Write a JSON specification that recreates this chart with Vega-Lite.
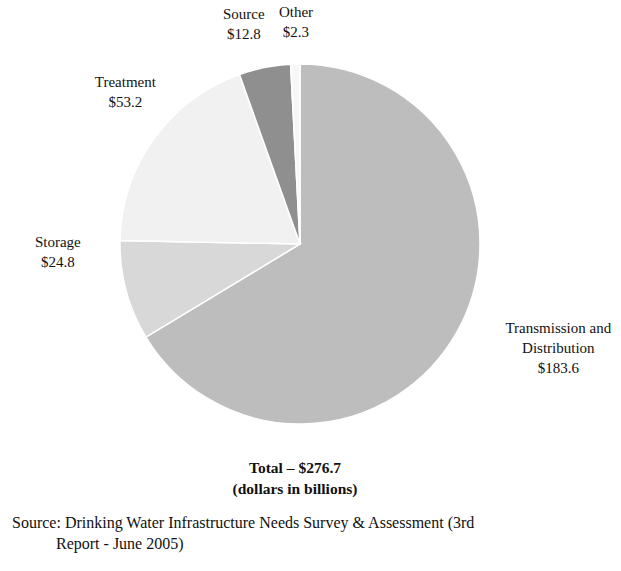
{
  "$schema": "https://vega.github.io/schema/vega-lite/v6.json",
  "padding": 5,
  "background": "white",
  "config": {"view": {"stroke": null}},
  "title": {
    "text": ["Source: Drinking Water Infrastructure Needs Survey & Assessment (3rd", "\u200b\u00a0\u00a0\u00a0\u00a0\u00a0\u00a0\u00a0\u00a0\u00a0\u00a0\u00a0Report - June 2005)"],
    "orient": "bottom",
    "anchor": "start",
    "font": "Liberation Serif",
    "fontSize": 16,
    "fontWeight": "normal",
    "color": "#111111",
    "lineHeight": 21,
    "dx": 7,
    "offset": 17
  },
  "vconcat": [
    {
      "width": 590,
      "height": 474,
      "title": {
        "text": ["Total – $276.7", "(dollars in billions)"],
        "orient": "bottom",
        "anchor": "middle",
        "font": "Liberation Serif",
        "fontSize": 15.5,
        "fontWeight": "bold",
        "color": "#111111",
        "lineHeight": 21,
        "dx": -5,
        "offset": -20
      },
      "data": {
        "values": [
          {"idx": 1, "category": "Transmission and Distribution", "value": 183.6, "label": "Transmission and\nDistribution\n$183.6"},
          {"idx": 2, "category": "Storage", "value": 24.8, "label": "Storage\n$24.8"},
          {"idx": 3, "category": "Treatment", "value": 53.2, "label": "Treatment\n$53.2"},
          {"idx": 4, "category": "Source", "value": 12.8, "label": "Source\n$12.8"},
          {"idx": 5, "category": "Other", "value": 2.3, "label": "Other\n$2.3"}
        ]
      },
      "layer": [
        {
          "mark": {"type": "arc", "outerRadius": 180, "stroke": "white", "strokeWidth": 1.5},
          "encoding": {
            "theta": {"field": "value", "type": "quantitative", "stack": true},
            "order": {"field": "idx", "type": "quantitative"},
            "color": {
              "field": "category",
              "type": "nominal",
              "scale": {
                "domain": ["Transmission and Distribution", "Storage", "Treatment", "Source", "Other"],
                "range": ["#bdbdbd", "#d8d8d8", "#f1f1f1", "#8f8f8f", "#f7f7f7"]
              },
              "legend": null
            }
          }
        },
        {
          "mark": {
            "type": "text",
            "radius": 230,
            "font": "Liberation Serif",
            "fontSize": 15,
            "lineHeight": 20,
            "lineBreak": "\n",
            "align": "center",
            "baseline": "middle",
            "color": "#111111",
            "dx": {"expr": "datum.category === 'Transmission and Distribution' ? 58 : datum.category === 'Storage' ? -20 : datum.category === 'Treatment' ? 12 : datum.category === 'Source' ? -11 : 2"},
            "dy": {"expr": "datum.category === 'Transmission and Distribution' ? -29 : datum.category === 'Storage' ? -62 : datum.category === 'Treatment' ? -28 : datum.category === 'Source' ? -4 : -2"}
          },
          "encoding": {
            "theta": {"field": "value", "type": "quantitative", "stack": true},
            "order": {"field": "idx", "type": "quantitative"},
            "text": {"field": "label"}
          }
        }
      ]
    }
  ]
}
